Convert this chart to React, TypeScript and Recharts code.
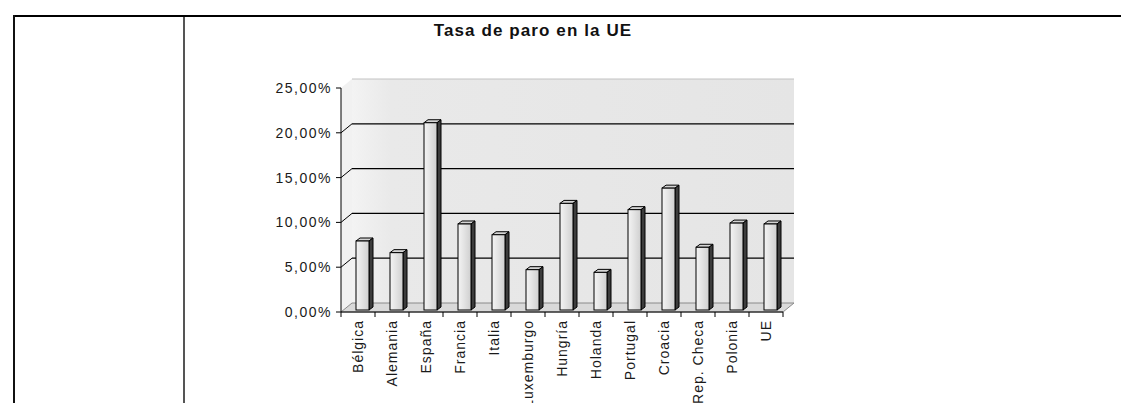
import { BarChart, Bar, XAxis, YAxis, CartesianGrid } from "recharts";

// Tasa de paro por país (%)
const paises = [
  "Bélgica",
  "Alemania",
  "España",
  "Francia",
  "Italia",
  "Luxemburgo",
  "Hungría",
  "Holanda",
  "Portugal",
  "Croacia",
  "Rep. Checa",
  "Polonia",
  "UE",
];
const tasas = [7.7, 6.4, 20.9, 9.6, 8.4, 4.5, 11.9, 4.2, 11.2, 13.6, 7.0, 9.7, 9.6];
const yTicks = [0, 5, 10, 15, 20, 25];

const data = paises.map((pais, i) => ({ pais, tasa: tasas[i] }));

const W = 1121;
const H = 403;
const Y_AXIS_W = 80;
const X_AXIS_H = 91;
const margin = { top: 88, right: 338, bottom: 0, left: 261 };
const PLOT_W = W - margin.left - Y_AXIS_W - margin.right;
const PLOT_H = H - margin.top - X_AXIS_H;
const BAND = PLOT_W / paises.length;
// desplazamiento de la pared del fondo (efecto 3D)
const DX = 11;
const DY = -9;
const FONT = '"Liberation Sans", Arial, sans-serif';

const fmtPct = (v: number) => v.toFixed(2).replace(".", ",") + "%";

function Walls(p: any) {
  if (p.index !== 0) return <g key={p.key} />;
  const x = p.x ?? p.x1;
  const y = p.y ?? margin.top;
  const w = p.width ?? p.x2 - p.x1;
  const h = p.height ?? PLOT_H;
  return (
    <g key={p.key}>
      <defs>
        <linearGradient id="wallFill" x1="0" y1="0" x2="1" y2="0">
          <stop offset="0" stopColor="#f3f3f3" />
          <stop offset="0.09" stopColor="#e9e9e9" />
          <stop offset="1" stopColor="#e5e5e5" />
        </linearGradient>
        <linearGradient id="barFront" x1="0" y1="0" x2="1" y2="0">
          <stop offset="0" stopColor="#f4f4f4" />
          <stop offset="0.5" stopColor="#e2e2e2" />
          <stop offset="1" stopColor="#cfcfcf" />
        </linearGradient>
      </defs>
      <polygon
        points={`${x},${y} ${x + DX},${y + DY} ${x + DX},${y + h + DY} ${x},${y + h}`}
        fill="#f1f1f1"
      />
      <rect x={x + DX} y={y + DY} width={w} height={h} fill="url(#wallFill)" />
      <polygon
        points={`${x},${y + h} ${x + DX},${y + h + DY} ${x + w + DX},${y + h + DY} ${x + w},${y + h}`}
        fill="#d9d9d9"
        stroke="#8a8a8a"
        strokeWidth={1}
      />
      <line x1={x + DX} y1={y + DY} x2={x + w + DX} y2={y + DY} stroke="#c2c2c2" />
    </g>
  );
}

function GridLine(p: any) {
  const top = p.y ?? margin.top;
  const bottom = top + (p.height ?? PLOT_H);
  const { x1, x2, y1 } = p;
  if (Math.abs(y1 - top) < 1 || Math.abs(y1 - bottom) < 1) return <g key={p.key} />;
  return (
    <g key={p.key}>
      <line x1={x1} y1={y1} x2={x1 + DX} y2={y1 + DY} stroke="#000" strokeWidth={1} />
      <line x1={x1 + DX} y1={y1 + DY} x2={x2 + DX} y2={y1 + DY} stroke="#000" strokeWidth={1.2} />
    </g>
  );
}

function Bar3D(props: any) {
  const { x, y, width, height } = props;
  if (!height || height <= 0) return null;
  const fx = x + 4;
  const fy = y - 2;
  const d = 4;
  const e = 3;
  return (
    <g>
      <polygon
        points={`${fx},${fy} ${fx + d},${fy - e} ${fx + width + d},${fy - e} ${fx + width},${fy}`}
        fill="#d4d4d4"
        stroke="#000"
        strokeWidth={1}
      />
      <polygon
        points={`${fx + width},${fy} ${fx + width + d},${fy - e} ${fx + width + d},${fy + height - e} ${fx + width},${fy + height}`}
        fill="#3c3c3c"
        stroke="#000"
        strokeWidth={1}
      />
      <rect x={fx} y={fy} width={width} height={height} fill="url(#barFront)" stroke="#000" strokeWidth={1} />
    </g>
  );
}

function CatTick(props: any) {
  const { x, y, payload, index } = props;
  const axisY = y - 8;
  const half = BAND / 2;
  return (
    <g>
      <line x1={x - half} y1={axisY} x2={x - half} y2={axisY + 5} stroke="#000" />
      {index === paises.length - 1 && (
        <line x1={x + half} y1={axisY} x2={x + half} y2={axisY + 5} stroke="#000" />
      )}
      <text
        x={x}
        y={y}
        transform={`rotate(-90 ${x} ${y})`}
        textAnchor="end"
        dominantBaseline="central"
        fontSize={14}
        letterSpacing={1}
        fontFamily={FONT}
        fill="#1a1a1a"
      >
        {payload.value}
      </text>
    </g>
  );
}

export default function App() {
  return (
    <div
      style={{
        position: "absolute",
        left: 0,
        top: 0,
        width: W,
        height: H,
        overflow: "hidden",
        background: "#fff",
        fontFamily: FONT,
      }}
    >
      {/* bordes de la tabla */}
      <div style={{ position: "absolute", left: 13, top: 15, width: W - 13, height: 2, background: "#000" }} />
      <div style={{ position: "absolute", left: 13, top: 15, width: 2, height: H - 15, background: "#111" }} />
      <div style={{ position: "absolute", left: 183, top: 17, width: 2, height: H - 17, background: "#555" }} />

      <div style={{ position: "absolute", left: 0, top: 0 }}>
        <BarChart width={W} height={H} data={data} margin={margin} barSize={13}>
          <CartesianGrid vertical={false} horizontal={Walls} />
          <CartesianGrid vertical={false} horizontal={GridLine} />
          <XAxis
            dataKey="pais"
            interval={0}
            height={X_AXIS_H}
            tickLine={false}
            tickSize={5}
            tickMargin={3}
            axisLine={{ stroke: "#000" }}
            tick={<CatTick />}
          />
          <YAxis
            width={Y_AXIS_W}
            domain={[0, 25]}
            ticks={yTicks}
            tickFormatter={fmtPct}
            tickSize={5}
            tickMargin={4}
            axisLine={{ stroke: "#000" }}
            tickLine={{ stroke: "#000" }}
            tick={{ fontSize: 14, fill: "#1a1a1a", fontFamily: FONT, letterSpacing: 1.5 }}
          />
          <Bar dataKey="tasa" shape={<Bar3D />} isAnimationActive={false} />
        </BarChart>
      </div>

      <div
        style={{
          position: "absolute",
          left: 333,
          top: 21,
          width: 400,
          textAlign: "center",
          fontSize: 17,
          lineHeight: "20px",
          fontWeight: "bold",
          letterSpacing: 1.1,
          color: "#111",
        }}
      >
        Tasa de paro en la UE
      </div>
    </div>
  );
}
